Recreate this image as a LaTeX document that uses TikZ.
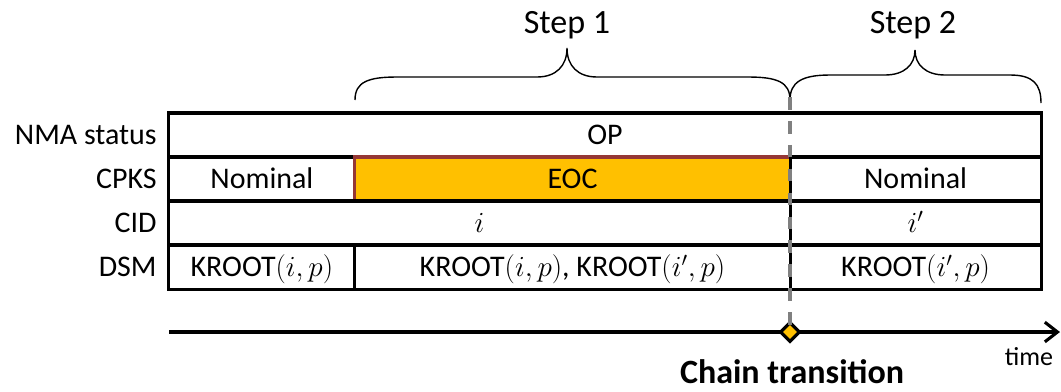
\documentclass[tikz,border=0pt]{standalone}
\usepackage{fontspec}
\setmainfont{Carlito}
\usetikzlibrary{
  arrows.meta,
  positioning,      % Function "of" (e.g. [right=of x])
  shapes.geometric, % Shape "diamond"
}
\newcommand{\cellfont}{\fontsize{21.3}{25}\selectfont}
\newcommand{\stepfont}{\fontsize{24.2}{28}\selectfont}
\definecolor{eocyellow}{HTML}{FFC000}
\definecolor{eocbrown}{HTML}{953735}
\definecolor{dashgray}{HTML}{808080}
\tikzset{
  cell/.style={
    draw,
    line width=2.2pt,
    inner sep=0mm,
    outer sep=0mm,
    minimum height=1.1cm,
    text height=13.7pt,
    text depth=0pt,
    font=\cellfont
  },
  eoc cell/.style={
    cell,
    draw=eocbrown,
    fill=eocyellow
  },
  row label/.style={
    inner sep=0mm,
    text height=13.7pt,
    text depth=0pt,
    font=\cellfont
  },
  step label/.style={
    anchor=base,
    inner sep=0mm,
    font=\stepfont
  },
  step brace/.style={
    line width=1pt
  },
  timeline/.style={
    line width=2.2pt,
    -{Straight Barb[length=9pt,width=14pt]}
  },
  event/.style={
    diamond,
    draw,
    fill=eocyellow,
    line width=2.2pt,
    minimum size=0.5cm,
    inner sep=0mm
  },
  transition/.style={
    draw=dashgray,
    line width=2.8pt,
    dash pattern=on 9pt off 8pt
  }
}

\begin{document}
\begin{tikzpicture}[x=0.025cm,y=-0.025cm]
\useasboundingbox (0,0) rectangle (1061,391);
% table
\node[cell,minimum width=21.8cm] (nma) at (605,135) {OP};
\node[cell,minimum width=4.65cm,below right=0pt and 0pt of nma.south west] (cpks1) {Nominal};
\node[eoc cell,minimum width=10.875cm,right=0pt of cpks1] (cpks2) {EOC};
\node[cell,minimum width=6.275cm,right=0pt of cpks2] (cpks3) {Nominal};
\node[cell,minimum width=15.525cm,below right=0pt and 0pt of cpks1.south west] (cid1) {$i$};
\node[cell,minimum width=6.275cm,right=0pt of cid1] (cid2) {$i'$};
\node[cell,minimum width=4.65cm,below right=0pt and 0pt of cid1.south west] (dsm1) {KROOT$(i,p)$};
\node[cell,minimum width=10.875cm,right=0pt of dsm1] (dsm2) {KROOT$(i,p)$, KROOT$(i',p)$};
\node[cell,minimum width=6.275cm,right=0pt of dsm2] (dsm3) {KROOT$(i',p)$};
% row labels
\node[row label,left=0.3cm of nma.west] (lnma) {NMA status};
\node[row label,left=0.3cm of cpks1.west] (lcpks) {CPKS};
\node[row label,left=0.3cm of cid1.west] (lcid) {CID};
\node[row label,left=0.3cm of dsm1.west] (ldsm) {DSM};
% braces
\draw[step brace] (355,100) .. controls (355,82) and (368,77) .. (397,77) -- (537,77)
  .. controls (556,77) and (567,66) .. (567,48)
  .. controls (567,66) and (578,77) .. (597,77) -- (748,77)
  .. controls (777,77) and (790,82) .. (790,100);
\draw[step brace] (790,100) .. controls (790,82) and (802,75) .. (830,75) -- (885,75)
  .. controls (904,75) and (915,65) .. (915,50)
  .. controls (915,65) and (926,75) .. (945,75) -- (1010,75)
  .. controls (1033,75) and (1041,84) .. (1041,103);
\node[step label] (step1) at (567,33) {Step 1};
\node[step label] (step2) at (913,33) {Step 2};
% time axis
\coordinate (t0) at (169,332);
\coordinate (t1) at (1060,332);
\draw[timeline] (t0) -- (t1);
\node[event] (ct) at (790,332) {};
\coordinate (dtop) at (790,97);
\draw[transition] (dtop) -- (ct.center);
\node[anchor=base,inner sep=0mm,font=\stepfont\bfseries] (ctl) at (792,383) {Chain transition};
\node[anchor=base,inner sep=0mm,font=\fontsize{18.5}{22}\selectfont] (time) at (1029,365) {time};
\end{tikzpicture}
\end{document}
